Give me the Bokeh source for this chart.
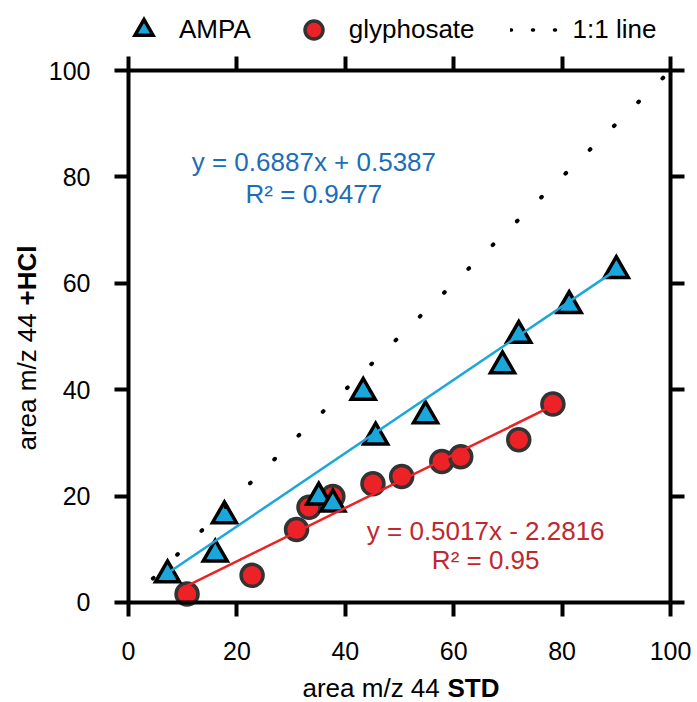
import math
from bokeh.plotting import figure
from bokeh.models import Range1d, LinearAxis, FixedTicker, Label, Legend, LegendItem
from bokeh.embed import file_html
from bokeh.resources import INLINE

# ---- data ----
ampa_x = [7.2, 16.0, 17.7, 35.1, 37.7, 43.3, 45.6, 54.8, 69.0, 72.0, 81.3, 90.0]
ampa_y = [5.2, 9.1, 16.3, 19.8, 18.5, 39.5, 31.1, 35.1, 44.5, 50.2, 55.8, 62.4]

gly_x = [10.8, 22.8, 31.0, 33.3, 37.7, 45.1, 50.4, 57.8, 61.3, 72.0, 78.3]
gly_y = [1.6, 5.1, 13.7, 17.9, 19.9, 22.3, 23.7, 26.5, 27.4, 30.6, 37.3]

ampa_slope, ampa_intercept, ampa_r2 = 0.6887, 0.5387, "0.9477"
gly_slope, gly_intercept, gly_r2 = 0.5017, -2.2816, "0.95"

one_x = [4.5, 100]
one_y = [4.5, 100]

ticks = [0, 20, 40, 60, 80, 100]
axis_min, axis_max = 0, 100

FONT = "Liberation Sans"
BLUE = "#1aa7dc"
RED = "#ec2227"
BLUE_TXT = "#1c6db8"
RED_TXT = "#c0282d"

W, H = 697, 702
# frame covers the whole canvas; the axes sit at fixed data locations
p = figure(width=W, height=H, x_range=Range1d(-23.62, 104.98), y_range=Range1d(-18.8, 113.16),
           output_backend="svg", toolbar_location=None,
           x_axis_location=None, y_axis_location=None,
           min_border=0, min_border_left=0, min_border_right=0,
           min_border_top=0, min_border_bottom=0)
p.grid.visible = False
p.outline_line_color = None
p.background_fill_color = "white"
p.border_fill_color = "white"


def make_axis(loc, labels=True, standoff=20):
    ax = LinearAxis(fixed_location=loc, bounds=(axis_min, axis_max))
    ax.ticker = FixedTicker(ticks=ticks)
    ax.axis_line_width = 4
    ax.axis_line_color = "black"
    ax.major_tick_line_width = 4
    ax.major_tick_line_color = "black"
    ax.major_tick_out = 14
    ax.major_tick_in = 0
    ax.minor_tick_out = 0
    ax.minor_tick_in = 0
    ax.major_label_text_font = FONT
    ax.major_label_text_color = "black"
    if labels:
        ax.major_label_text_font_size = "25px"
        ax.major_label_standoff = standoff
    else:
        ax.major_label_text_color = None
        ax.major_label_standoff = 0
    return ax


p.add_layout(make_axis(axis_min, standoff=26), "below")
p.add_layout(make_axis(axis_min, standoff=24), "left")
p.add_layout(make_axis(axis_max, labels=False), "above")
p.add_layout(make_axis(axis_max, labels=False), "right")

# ---- marks ----
gly = p.scatter(gly_x, gly_y, marker="circle", size=22, fill_color=RED,
                line_color="#333333", line_width=3.5)
ampa = p.scatter(ampa_x, ampa_y, marker="triangle", size=24, fill_color=BLUE,
                 line_color="black", line_width=3.5, line_join="miter")

ax0, ax1 = min(ampa_x), max(ampa_x)
p.line([ax0, ax1], [ampa_slope * ax0 + ampa_intercept, ampa_slope * ax1 + ampa_intercept],
       line_color=BLUE, line_width=2.5)
gx0, gx1 = min(gly_x), max(gly_x)
p.line([gx0, gx1], [gly_slope * gx0 + gly_intercept, gly_slope * gx1 + gly_intercept],
       line_color=RED, line_width=2.5)

one = p.line(one_x, one_y, line_color="black", line_width=4, line_dash="1 33", line_cap="round")
# legend swatch for the 1:1 line (denser dots, hidden in the plot itself)
one_leg = p.line(one_x, one_y, line_color="black", line_width=3.5, line_dash="1 21",
                 line_cap="round", visible=False)

# ---- equation labels ----
eq = dict(text_align="center", text_baseline="alphabetic", text_font=FONT, text_font_size="26px")
p.add_layout(Label(x=34.2, y=82.8, text=f"y = {ampa_slope}x + {ampa_intercept}",
                   text_color=BLUE_TXT, **eq))
p.add_layout(Label(x=34.2, y=76.7, text=f"R² = {ampa_r2}", text_color=BLUE_TXT, **eq))
p.add_layout(Label(x=65.9, y=13.5, text=f"y = {gly_slope}x - {abs(gly_intercept)}",
                   text_color=RED_TXT, **eq))
p.add_layout(Label(x=65.9, y=7.9, text=f"R² = {gly_r2}", text_color=RED_TXT, **eq))

# ---- axis titles (normal + bold part), screen px from bottom-left ----
common = dict(x_units="screen", y_units="screen", text_font=FONT, text_font_size="26px",
              text_color="black", text_align="left", text_baseline="alphabetic")
p.add_layout(Label(x=302, y=15, text="area m/z 44", **common))
p.add_layout(Label(x=447, y=15, text="STD", text_font_style="bold", **common))
p.add_layout(Label(x=26, y=252, angle=math.pi / 2, text="area m/z 44", **common))
p.add_layout(Label(x=26, y=397, angle=math.pi / 2, text="+HCl", text_font_style="bold", **common))

# ---- legend ----
legend = Legend(items=[LegendItem(label="AMPA", renderers=[ampa]),
                       LegendItem(label="glyphosate", renderers=[gly]),
                       LegendItem(label="1:1 line", renderers=[one_leg])],
                orientation="horizontal", location=(116, 650),
                glyph_width=55, glyph_height=45, label_standoff=8, spacing=35,
                padding=0, margin=0, border_line_color=None, background_fill_alpha=0,
                label_text_font=FONT, label_text_font_size="26px", label_text_color="black")
p.add_layout(legend)

open("out.html", "w").write(file_html(p, INLINE))
